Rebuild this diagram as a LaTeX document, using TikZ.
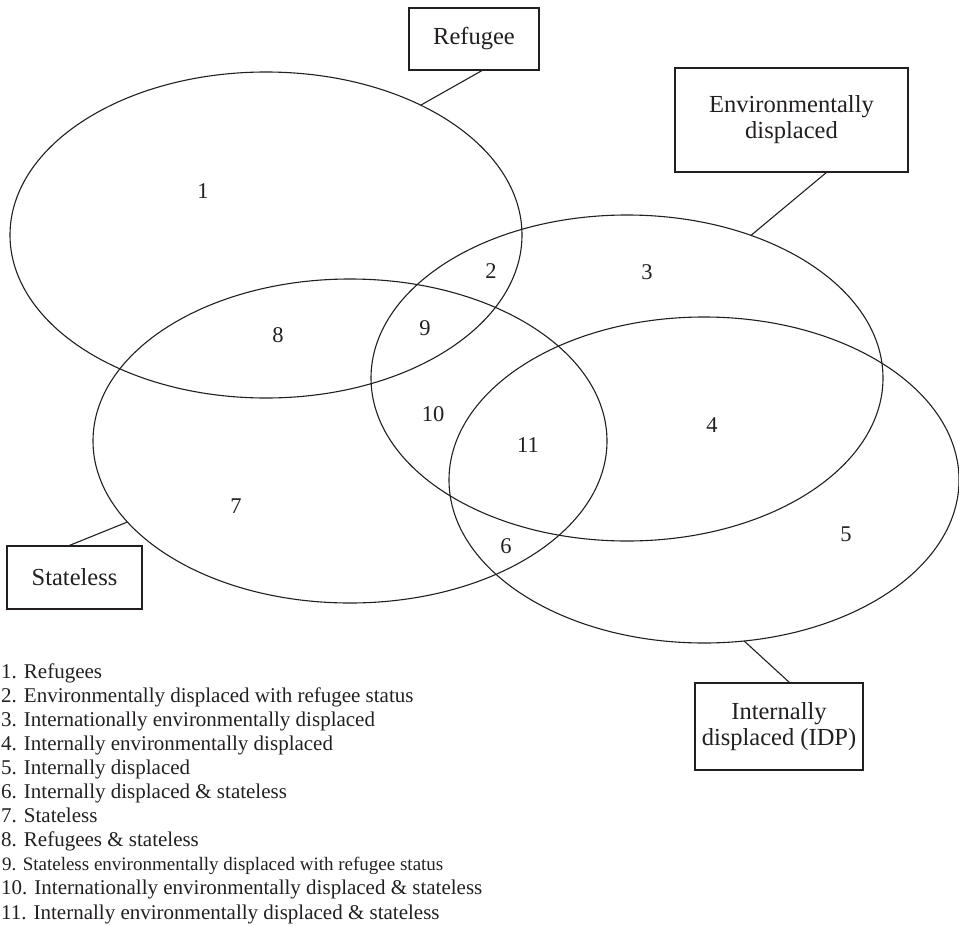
\documentclass[tikz,border=0pt]{standalone}
\usepackage{fontspec}
\setmainfont{Liberation Serif}
\usetikzlibrary{shapes.geometric}
\definecolor{ink}{HTML}{231F20}
\begin{document}
\begin{tikzpicture}[x=1pt,y=-1pt,
  ell/.style={draw=ink, line width=1.1pt, ellipse, inner sep=0pt, outer sep=0pt},
  lab/.style={draw=ink, line width=1.1pt, align=center, inner sep=0pt, outer sep=0pt, font=\fontsize{24.5}{26}\selectfont, text=ink},
  num/.style={font=\fontsize{22.5}{24}\selectfont, text=ink, inner sep=0pt},
  leg/.style={font=\fontsize{21}{24}\selectfont, text=ink, anchor=base west, inner sep=0pt},
  conn/.style={draw=ink, line width=1.1pt}]
\useasboundingbox (0,0) rectangle (959,926);

% sets
\node[ell, minimum width=512pt, minimum height=326pt] (refE) at (266,235) {};
\node[ell, minimum width=514pt, minimum height=324pt] (statE) at (350,441) {};
\node[ell, minimum width=512pt, minimum height=326pt] (envE) at (627,378) {};
\node[ell, minimum width=510pt, minimum height=326pt] (idpE) at (704,480) {};

% labels
\node[lab, minimum width=130pt, minimum height=62pt] (refB) at (474,39) {Refugee};
\node[lab, minimum width=233pt, minimum height=104pt] (envB) at (791.5,120) {Environmentally\\displaced};
\node[lab, minimum width=135pt, minimum height=63pt] (statB) at (74.5,577.5) {Stateless};
\node[lab, minimum width=168pt, minimum height=87pt] (idpB) at (779,726.5) {Internally\\displaced (IDP)};

% connectors
\draw[conn] ([xshift=9pt]refB.south) -- (refE.40);
\draw[conn] ([xshift=35.5pt]envB.south) -- (envE.49);
\draw[conn] ([xshift=-6.5pt]statB.north) -- (statE.200);
\draw[conn] ([xshift=11pt]idpB.north) -- (idpE.284);

% region numbers
\node[num] (n1) at (203,191) {1};
\node[num] (n2) at (491,271) {2};
\node[num] (n3) at (647,272) {3};
\node[num] (n4) at (712,425) {4};
\node[num] (n5) at (846,534) {5};
\node[num] (n6) at (506,546) {6};
\node[num] (n7) at (236,506) {7};
\node[num] (n8) at (278,335) {8};
\node[num] (n9) at (425,328) {9};
\node[num] (n10) at (433,414) {10};
\node[num] (n11) at (528,445) {11};

% legend
\node[leg] (l1) at (1,678) {1. Refugees};
\node[leg] (l2) at (1,702.1) {2. Environmentally displaced with refugee status};
\node[leg] (l3) at (1,726.2) {3. Internationally environmentally displaced};
\node[leg] (l4) at (1,750.3) {4. Internally environmentally displaced};
\node[leg] (l5) at (1,774.4) {5. Internally displaced};
\node[leg] (l6) at (1,798.5) {6. Internally displaced \& stateless};
\node[leg] (l7) at (1,822.6) {7. Stateless};
\node[leg] (l8) at (1,846.7) {8. Refugees \& stateless};
\node[leg, font=\fontsize{19}{24}\selectfont] (l9) at (2,870.8) {9. Stateless environmentally displaced with refugee status};
\node[leg] (l10) at (1,894.9) {10. Internationally environmentally displaced \& stateless};
\node[leg] (l11) at (1,919) {11. Internally environmentally displaced \& stateless};
\end{tikzpicture}
\end{document}
